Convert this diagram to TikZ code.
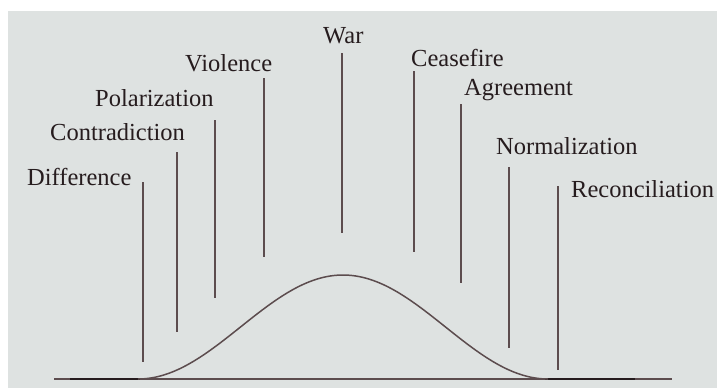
\documentclass[tikz,border=0pt]{standalone}
\usepackage{fontspec}
\setmainfont{Liberation Serif}
\definecolor{bg}{RGB}{222,226,225}
\definecolor{ink}{RGB}{38,28,30}
\definecolor{stroke}{RGB}{92,76,78}
\begin{document}
\begin{tikzpicture}[x=1pt,y=-1pt,
  lbl/.style={anchor=base west, inner sep=0pt, text=ink, font=\fontsize{24.5}{28}\selectfont},
  tick/.style={draw=stroke, line width=1.4pt},
  axisline/.style={draw=stroke, line width=1.4pt},
  heavy/.style={draw=ink, line width=2.6pt},
  bell/.style={draw=stroke, line width=1.5pt}]
\useasboundingbox (0,0) rectangle (717,388);
\fill[white] (0,0) rectangle (717,388);
\fill[bg] (8,11) rectangle (717,388);

% labels
\node[lbl] (difference) at (27,185) {Difference};
\node[lbl] (contradiction) at (50,140) {Contradiction};
\node[lbl] (polarization) at (95,106) {Polarization};
\node[lbl] (violence) at (185,71) {Violence};
\node[lbl] (war) at (323,43) {War};
\node[lbl] (ceasefire) at (411,66) {Ceasefire};
\node[lbl] (agreement) at (464,95) {Agreement};
\node[lbl] (normalization) at (496,154) {Normalization};
\node[lbl] (reconciliation) at (571,197) {Reconciliation};

% stage lines
\coordinate (t1) at (143,182); \coordinate (b1) at (143,362);
\coordinate (t2) at (177,152); \coordinate (b2) at (177,332);
\coordinate (t3) at (215,120); \coordinate (b3) at (215,298);
\coordinate (t4) at (264,78);  \coordinate (b4) at (264,257);
\coordinate (t5) at (342,53);  \coordinate (b5) at (342,233);
\coordinate (t6) at (414,71);  \coordinate (b6) at (414,252);
\coordinate (t7) at (461,104); \coordinate (b7) at (461,283);
\coordinate (t8) at (509,167); \coordinate (b8) at (509,348);
\coordinate (t9) at (558,186); \coordinate (b9) at (558,370);
\foreach \i in {1,...,9} { \draw[tick] (t\i) -- (b\i); }

% baseline
\coordinate (axl) at (54,379);
\coordinate (axr) at (672,379);
\draw[axisline] (axl) -- (axr);
\coordinate (hl1) at (70,379); \coordinate (hl2) at (140,379);
\coordinate (hr1) at (545,379); \coordinate (hr2) at (635,379);
\draw[heavy] (hl1) -- (hl2);
\draw[heavy] (hr1) -- (hr2);

% bell curve
\draw[bell] plot[domain=-205:205, samples=120, smooth] ({343+\x}, {379-52*(1+cos(\x/205*180))});
\end{tikzpicture}
\end{document}
